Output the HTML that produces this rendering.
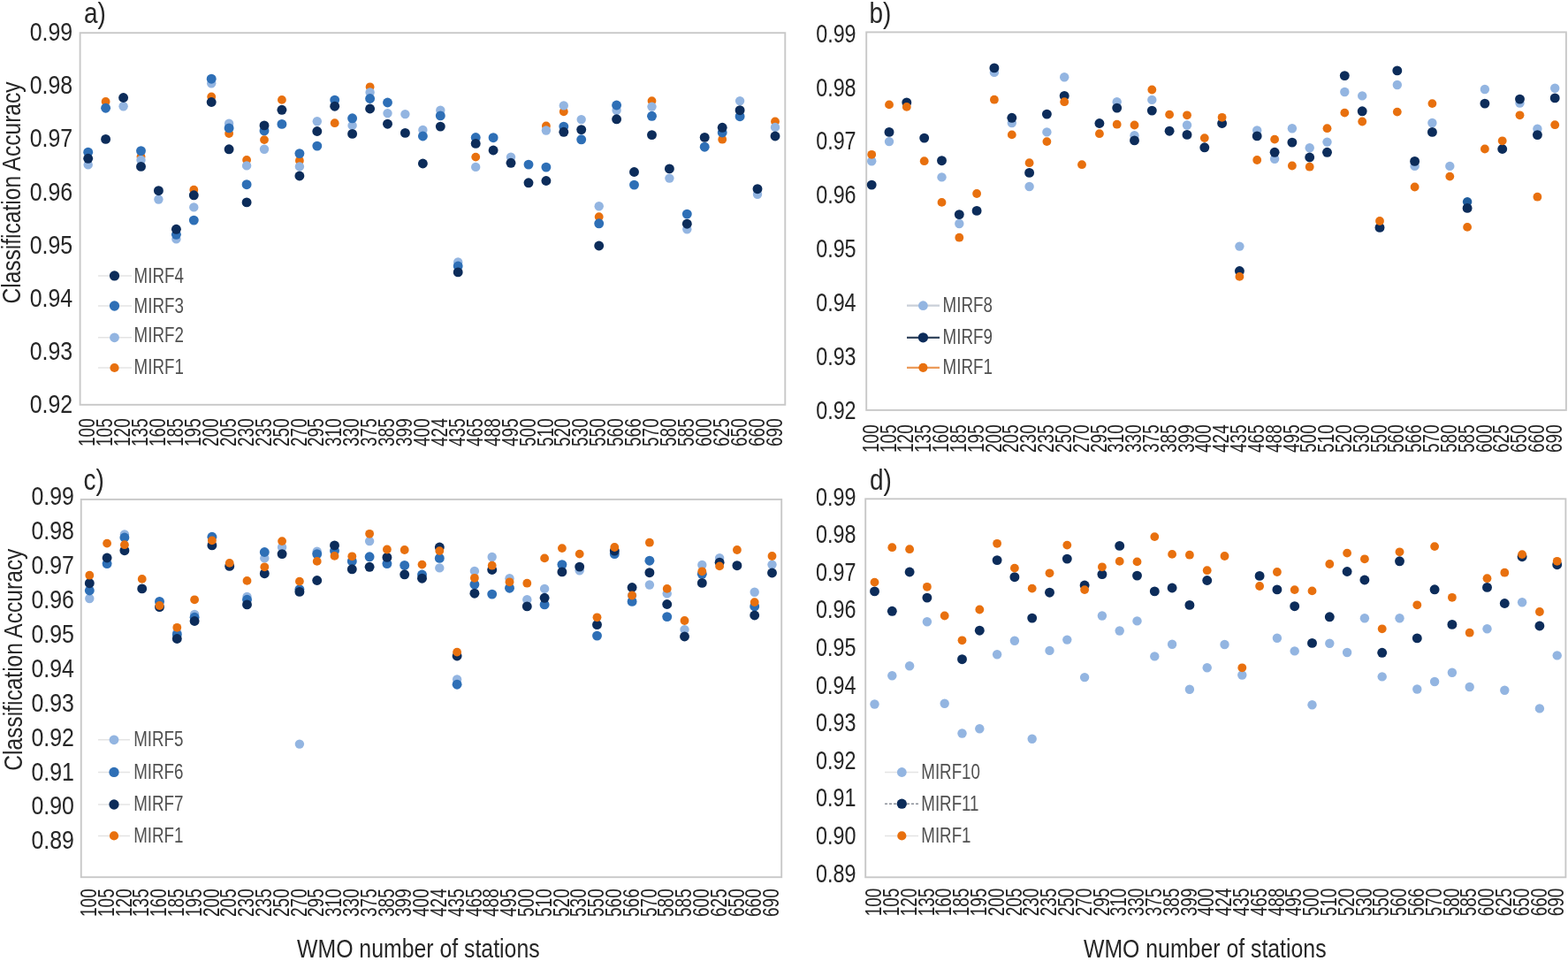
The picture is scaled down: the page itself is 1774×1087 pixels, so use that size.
<!DOCTYPE html><html><head><meta charset="utf-8"><style>html,body{margin:0;padding:0;background:#fff;width:1774px;height:1087px;overflow:hidden}svg{display:block;filter:blur(0.35px)}text{font-family:'Liberation Sans',Arial,sans-serif}</style></head><body>
<svg width="1774" height="1087" viewBox="0 0 1774 1087">
<rect width="1774" height="1087" fill="#fff"/>
<rect x="90.60" y="37.20" width="797.70" height="420.60" fill="none" stroke="#c8c8c8" stroke-width="1.9"/>
<text transform="translate(82.20,46.28) scale(0.86,1)" font-size="29.0" fill="#262626" text-anchor="end">0.99</text>
<text transform="translate(82.20,106.38) scale(0.86,1)" font-size="29.0" fill="#262626" text-anchor="end">0.98</text>
<text transform="translate(82.20,166.48) scale(0.86,1)" font-size="29.0" fill="#262626" text-anchor="end">0.97</text>
<text transform="translate(82.20,226.58) scale(0.86,1)" font-size="29.0" fill="#262626" text-anchor="end">0.96</text>
<text transform="translate(82.20,286.68) scale(0.86,1)" font-size="29.0" fill="#262626" text-anchor="end">0.95</text>
<text transform="translate(82.20,346.78) scale(0.86,1)" font-size="29.0" fill="#262626" text-anchor="end">0.94</text>
<text transform="translate(82.20,406.88) scale(0.86,1)" font-size="29.0" fill="#262626" text-anchor="end">0.93</text>
<text transform="translate(82.20,466.98) scale(0.86,1)" font-size="29.0" fill="#262626" text-anchor="end">0.92</text>
<text transform="translate(107.35,473.30) rotate(-90) scale(0.76,1)" font-size="25.0" fill="#262626" text-anchor="end">100</text>
<text transform="translate(127.28,473.30) rotate(-90) scale(0.76,1)" font-size="25.0" fill="#262626" text-anchor="end">105</text>
<text transform="translate(147.21,473.30) rotate(-90) scale(0.76,1)" font-size="25.0" fill="#262626" text-anchor="end">120</text>
<text transform="translate(167.14,473.30) rotate(-90) scale(0.76,1)" font-size="25.0" fill="#262626" text-anchor="end">135</text>
<text transform="translate(187.07,473.30) rotate(-90) scale(0.76,1)" font-size="25.0" fill="#262626" text-anchor="end">160</text>
<text transform="translate(207.00,473.30) rotate(-90) scale(0.76,1)" font-size="25.0" fill="#262626" text-anchor="end">185</text>
<text transform="translate(226.93,473.30) rotate(-90) scale(0.76,1)" font-size="25.0" fill="#262626" text-anchor="end">195</text>
<text transform="translate(246.86,473.30) rotate(-90) scale(0.76,1)" font-size="25.0" fill="#262626" text-anchor="end">200</text>
<text transform="translate(266.79,473.30) rotate(-90) scale(0.76,1)" font-size="25.0" fill="#262626" text-anchor="end">205</text>
<text transform="translate(286.72,473.30) rotate(-90) scale(0.76,1)" font-size="25.0" fill="#262626" text-anchor="end">230</text>
<text transform="translate(306.65,473.30) rotate(-90) scale(0.76,1)" font-size="25.0" fill="#262626" text-anchor="end">235</text>
<text transform="translate(326.58,473.30) rotate(-90) scale(0.76,1)" font-size="25.0" fill="#262626" text-anchor="end">250</text>
<text transform="translate(346.51,473.30) rotate(-90) scale(0.76,1)" font-size="25.0" fill="#262626" text-anchor="end">270</text>
<text transform="translate(366.44,473.30) rotate(-90) scale(0.76,1)" font-size="25.0" fill="#262626" text-anchor="end">295</text>
<text transform="translate(386.37,473.30) rotate(-90) scale(0.76,1)" font-size="25.0" fill="#262626" text-anchor="end">310</text>
<text transform="translate(406.30,473.30) rotate(-90) scale(0.76,1)" font-size="25.0" fill="#262626" text-anchor="end">330</text>
<text transform="translate(426.23,473.30) rotate(-90) scale(0.76,1)" font-size="25.0" fill="#262626" text-anchor="end">375</text>
<text transform="translate(446.16,473.30) rotate(-90) scale(0.76,1)" font-size="25.0" fill="#262626" text-anchor="end">385</text>
<text transform="translate(466.09,473.30) rotate(-90) scale(0.76,1)" font-size="25.0" fill="#262626" text-anchor="end">399</text>
<text transform="translate(486.02,473.30) rotate(-90) scale(0.76,1)" font-size="25.0" fill="#262626" text-anchor="end">400</text>
<text transform="translate(505.95,473.30) rotate(-90) scale(0.76,1)" font-size="25.0" fill="#262626" text-anchor="end">424</text>
<text transform="translate(525.88,473.30) rotate(-90) scale(0.76,1)" font-size="25.0" fill="#262626" text-anchor="end">435</text>
<text transform="translate(545.81,473.30) rotate(-90) scale(0.76,1)" font-size="25.0" fill="#262626" text-anchor="end">465</text>
<text transform="translate(565.74,473.30) rotate(-90) scale(0.76,1)" font-size="25.0" fill="#262626" text-anchor="end">488</text>
<text transform="translate(585.67,473.30) rotate(-90) scale(0.76,1)" font-size="25.0" fill="#262626" text-anchor="end">495</text>
<text transform="translate(605.60,473.30) rotate(-90) scale(0.76,1)" font-size="25.0" fill="#262626" text-anchor="end">500</text>
<text transform="translate(625.53,473.30) rotate(-90) scale(0.76,1)" font-size="25.0" fill="#262626" text-anchor="end">510</text>
<text transform="translate(645.46,473.30) rotate(-90) scale(0.76,1)" font-size="25.0" fill="#262626" text-anchor="end">520</text>
<text transform="translate(665.39,473.30) rotate(-90) scale(0.76,1)" font-size="25.0" fill="#262626" text-anchor="end">530</text>
<text transform="translate(685.32,473.30) rotate(-90) scale(0.76,1)" font-size="25.0" fill="#262626" text-anchor="end">550</text>
<text transform="translate(705.25,473.30) rotate(-90) scale(0.76,1)" font-size="25.0" fill="#262626" text-anchor="end">560</text>
<text transform="translate(725.18,473.30) rotate(-90) scale(0.76,1)" font-size="25.0" fill="#262626" text-anchor="end">566</text>
<text transform="translate(745.11,473.30) rotate(-90) scale(0.76,1)" font-size="25.0" fill="#262626" text-anchor="end">570</text>
<text transform="translate(765.04,473.30) rotate(-90) scale(0.76,1)" font-size="25.0" fill="#262626" text-anchor="end">580</text>
<text transform="translate(784.97,473.30) rotate(-90) scale(0.76,1)" font-size="25.0" fill="#262626" text-anchor="end">585</text>
<text transform="translate(804.90,473.30) rotate(-90) scale(0.76,1)" font-size="25.0" fill="#262626" text-anchor="end">600</text>
<text transform="translate(824.83,473.30) rotate(-90) scale(0.76,1)" font-size="25.0" fill="#262626" text-anchor="end">625</text>
<text transform="translate(844.76,473.30) rotate(-90) scale(0.76,1)" font-size="25.0" fill="#262626" text-anchor="end">650</text>
<text transform="translate(864.69,473.30) rotate(-90) scale(0.76,1)" font-size="25.0" fill="#262626" text-anchor="end">660</text>
<text transform="translate(884.62,473.30) rotate(-90) scale(0.76,1)" font-size="25.0" fill="#262626" text-anchor="end">690</text>
<text transform="translate(95.00,25.80) scale(0.86,1)" font-size="32.5" fill="#262626">a)</text>
<rect x="980.20" y="36.40" width="791.70" height="427.50" fill="none" stroke="#c8c8c8" stroke-width="1.9"/>
<text transform="translate(968.60,47.68) scale(0.805,1)" font-size="29.0" fill="#262626" text-anchor="end">0.99</text>
<text transform="translate(968.60,108.58) scale(0.805,1)" font-size="29.0" fill="#262626" text-anchor="end">0.98</text>
<text transform="translate(968.60,169.48) scale(0.805,1)" font-size="29.0" fill="#262626" text-anchor="end">0.97</text>
<text transform="translate(968.60,230.38) scale(0.805,1)" font-size="29.0" fill="#262626" text-anchor="end">0.96</text>
<text transform="translate(968.60,291.28) scale(0.805,1)" font-size="29.0" fill="#262626" text-anchor="end">0.95</text>
<text transform="translate(968.60,352.18) scale(0.805,1)" font-size="29.0" fill="#262626" text-anchor="end">0.94</text>
<text transform="translate(968.60,413.08) scale(0.805,1)" font-size="29.0" fill="#262626" text-anchor="end">0.93</text>
<text transform="translate(968.60,473.98) scale(0.805,1)" font-size="29.0" fill="#262626" text-anchor="end">0.92</text>
<text transform="translate(993.85,480.30) rotate(-90) scale(0.76,1)" font-size="25.0" fill="#262626" text-anchor="end">100</text>
<text transform="translate(1013.67,480.30) rotate(-90) scale(0.76,1)" font-size="25.0" fill="#262626" text-anchor="end">105</text>
<text transform="translate(1033.49,480.30) rotate(-90) scale(0.76,1)" font-size="25.0" fill="#262626" text-anchor="end">120</text>
<text transform="translate(1053.31,480.30) rotate(-90) scale(0.76,1)" font-size="25.0" fill="#262626" text-anchor="end">135</text>
<text transform="translate(1073.13,480.30) rotate(-90) scale(0.76,1)" font-size="25.0" fill="#262626" text-anchor="end">160</text>
<text transform="translate(1092.95,480.30) rotate(-90) scale(0.76,1)" font-size="25.0" fill="#262626" text-anchor="end">185</text>
<text transform="translate(1112.77,480.30) rotate(-90) scale(0.76,1)" font-size="25.0" fill="#262626" text-anchor="end">195</text>
<text transform="translate(1132.59,480.30) rotate(-90) scale(0.76,1)" font-size="25.0" fill="#262626" text-anchor="end">200</text>
<text transform="translate(1152.41,480.30) rotate(-90) scale(0.76,1)" font-size="25.0" fill="#262626" text-anchor="end">205</text>
<text transform="translate(1172.23,480.30) rotate(-90) scale(0.76,1)" font-size="25.0" fill="#262626" text-anchor="end">230</text>
<text transform="translate(1192.05,480.30) rotate(-90) scale(0.76,1)" font-size="25.0" fill="#262626" text-anchor="end">235</text>
<text transform="translate(1211.87,480.30) rotate(-90) scale(0.76,1)" font-size="25.0" fill="#262626" text-anchor="end">250</text>
<text transform="translate(1231.69,480.30) rotate(-90) scale(0.76,1)" font-size="25.0" fill="#262626" text-anchor="end">270</text>
<text transform="translate(1251.51,480.30) rotate(-90) scale(0.76,1)" font-size="25.0" fill="#262626" text-anchor="end">295</text>
<text transform="translate(1271.33,480.30) rotate(-90) scale(0.76,1)" font-size="25.0" fill="#262626" text-anchor="end">310</text>
<text transform="translate(1291.15,480.30) rotate(-90) scale(0.76,1)" font-size="25.0" fill="#262626" text-anchor="end">330</text>
<text transform="translate(1310.97,480.30) rotate(-90) scale(0.76,1)" font-size="25.0" fill="#262626" text-anchor="end">375</text>
<text transform="translate(1330.79,480.30) rotate(-90) scale(0.76,1)" font-size="25.0" fill="#262626" text-anchor="end">385</text>
<text transform="translate(1350.61,480.30) rotate(-90) scale(0.76,1)" font-size="25.0" fill="#262626" text-anchor="end">399</text>
<text transform="translate(1370.43,480.30) rotate(-90) scale(0.76,1)" font-size="25.0" fill="#262626" text-anchor="end">400</text>
<text transform="translate(1390.25,480.30) rotate(-90) scale(0.76,1)" font-size="25.0" fill="#262626" text-anchor="end">424</text>
<text transform="translate(1410.07,480.30) rotate(-90) scale(0.76,1)" font-size="25.0" fill="#262626" text-anchor="end">435</text>
<text transform="translate(1429.89,480.30) rotate(-90) scale(0.76,1)" font-size="25.0" fill="#262626" text-anchor="end">465</text>
<text transform="translate(1449.71,480.30) rotate(-90) scale(0.76,1)" font-size="25.0" fill="#262626" text-anchor="end">488</text>
<text transform="translate(1469.53,480.30) rotate(-90) scale(0.76,1)" font-size="25.0" fill="#262626" text-anchor="end">495</text>
<text transform="translate(1489.35,480.30) rotate(-90) scale(0.76,1)" font-size="25.0" fill="#262626" text-anchor="end">500</text>
<text transform="translate(1509.17,480.30) rotate(-90) scale(0.76,1)" font-size="25.0" fill="#262626" text-anchor="end">510</text>
<text transform="translate(1528.99,480.30) rotate(-90) scale(0.76,1)" font-size="25.0" fill="#262626" text-anchor="end">520</text>
<text transform="translate(1548.81,480.30) rotate(-90) scale(0.76,1)" font-size="25.0" fill="#262626" text-anchor="end">530</text>
<text transform="translate(1568.63,480.30) rotate(-90) scale(0.76,1)" font-size="25.0" fill="#262626" text-anchor="end">550</text>
<text transform="translate(1588.45,480.30) rotate(-90) scale(0.76,1)" font-size="25.0" fill="#262626" text-anchor="end">560</text>
<text transform="translate(1608.27,480.30) rotate(-90) scale(0.76,1)" font-size="25.0" fill="#262626" text-anchor="end">566</text>
<text transform="translate(1628.09,480.30) rotate(-90) scale(0.76,1)" font-size="25.0" fill="#262626" text-anchor="end">570</text>
<text transform="translate(1647.91,480.30) rotate(-90) scale(0.76,1)" font-size="25.0" fill="#262626" text-anchor="end">580</text>
<text transform="translate(1667.73,480.30) rotate(-90) scale(0.76,1)" font-size="25.0" fill="#262626" text-anchor="end">585</text>
<text transform="translate(1687.55,480.30) rotate(-90) scale(0.76,1)" font-size="25.0" fill="#262626" text-anchor="end">600</text>
<text transform="translate(1707.37,480.30) rotate(-90) scale(0.76,1)" font-size="25.0" fill="#262626" text-anchor="end">625</text>
<text transform="translate(1727.19,480.30) rotate(-90) scale(0.76,1)" font-size="25.0" fill="#262626" text-anchor="end">650</text>
<text transform="translate(1747.01,480.30) rotate(-90) scale(0.76,1)" font-size="25.0" fill="#262626" text-anchor="end">660</text>
<text transform="translate(1766.83,480.30) rotate(-90) scale(0.76,1)" font-size="25.0" fill="#262626" text-anchor="end">690</text>
<text transform="translate(983.40,25.60) scale(0.86,1)" font-size="32.5" fill="#262626">b)</text>
<rect x="91.75" y="564.90" width="792.45" height="427.30" fill="none" stroke="#c8c8c8" stroke-width="1.9"/>
<text transform="translate(84.00,570.98) scale(0.86,1)" font-size="29.0" fill="#262626" text-anchor="end">0.99</text>
<text transform="translate(84.00,609.92) scale(0.86,1)" font-size="29.0" fill="#262626" text-anchor="end">0.98</text>
<text transform="translate(84.00,648.86) scale(0.86,1)" font-size="29.0" fill="#262626" text-anchor="end">0.97</text>
<text transform="translate(84.00,687.80) scale(0.86,1)" font-size="29.0" fill="#262626" text-anchor="end">0.96</text>
<text transform="translate(84.00,726.74) scale(0.86,1)" font-size="29.0" fill="#262626" text-anchor="end">0.95</text>
<text transform="translate(84.00,765.68) scale(0.86,1)" font-size="29.0" fill="#262626" text-anchor="end">0.94</text>
<text transform="translate(84.00,804.62) scale(0.86,1)" font-size="29.0" fill="#262626" text-anchor="end">0.93</text>
<text transform="translate(84.00,843.56) scale(0.86,1)" font-size="29.0" fill="#262626" text-anchor="end">0.92</text>
<text transform="translate(84.00,882.50) scale(0.86,1)" font-size="29.0" fill="#262626" text-anchor="end">0.91</text>
<text transform="translate(84.00,921.44) scale(0.86,1)" font-size="29.0" fill="#262626" text-anchor="end">0.90</text>
<text transform="translate(84.00,960.38) scale(0.86,1)" font-size="29.0" fill="#262626" text-anchor="end">0.89</text>
<text transform="translate(108.95,1005.30) rotate(-90) scale(0.76,1)" font-size="25.0" fill="#262626" text-anchor="end">100</text>
<text transform="translate(128.75,1005.30) rotate(-90) scale(0.76,1)" font-size="25.0" fill="#262626" text-anchor="end">105</text>
<text transform="translate(148.55,1005.30) rotate(-90) scale(0.76,1)" font-size="25.0" fill="#262626" text-anchor="end">120</text>
<text transform="translate(168.35,1005.30) rotate(-90) scale(0.76,1)" font-size="25.0" fill="#262626" text-anchor="end">135</text>
<text transform="translate(188.15,1005.30) rotate(-90) scale(0.76,1)" font-size="25.0" fill="#262626" text-anchor="end">160</text>
<text transform="translate(207.95,1005.30) rotate(-90) scale(0.76,1)" font-size="25.0" fill="#262626" text-anchor="end">185</text>
<text transform="translate(227.75,1005.30) rotate(-90) scale(0.76,1)" font-size="25.0" fill="#262626" text-anchor="end">195</text>
<text transform="translate(247.55,1005.30) rotate(-90) scale(0.76,1)" font-size="25.0" fill="#262626" text-anchor="end">200</text>
<text transform="translate(267.35,1005.30) rotate(-90) scale(0.76,1)" font-size="25.0" fill="#262626" text-anchor="end">205</text>
<text transform="translate(287.15,1005.30) rotate(-90) scale(0.76,1)" font-size="25.0" fill="#262626" text-anchor="end">230</text>
<text transform="translate(306.95,1005.30) rotate(-90) scale(0.76,1)" font-size="25.0" fill="#262626" text-anchor="end">235</text>
<text transform="translate(326.75,1005.30) rotate(-90) scale(0.76,1)" font-size="25.0" fill="#262626" text-anchor="end">250</text>
<text transform="translate(346.55,1005.30) rotate(-90) scale(0.76,1)" font-size="25.0" fill="#262626" text-anchor="end">270</text>
<text transform="translate(366.35,1005.30) rotate(-90) scale(0.76,1)" font-size="25.0" fill="#262626" text-anchor="end">295</text>
<text transform="translate(386.15,1005.30) rotate(-90) scale(0.76,1)" font-size="25.0" fill="#262626" text-anchor="end">310</text>
<text transform="translate(405.95,1005.30) rotate(-90) scale(0.76,1)" font-size="25.0" fill="#262626" text-anchor="end">330</text>
<text transform="translate(425.75,1005.30) rotate(-90) scale(0.76,1)" font-size="25.0" fill="#262626" text-anchor="end">375</text>
<text transform="translate(445.55,1005.30) rotate(-90) scale(0.76,1)" font-size="25.0" fill="#262626" text-anchor="end">385</text>
<text transform="translate(465.35,1005.30) rotate(-90) scale(0.76,1)" font-size="25.0" fill="#262626" text-anchor="end">399</text>
<text transform="translate(485.15,1005.30) rotate(-90) scale(0.76,1)" font-size="25.0" fill="#262626" text-anchor="end">400</text>
<text transform="translate(504.95,1005.30) rotate(-90) scale(0.76,1)" font-size="25.0" fill="#262626" text-anchor="end">424</text>
<text transform="translate(524.75,1005.30) rotate(-90) scale(0.76,1)" font-size="25.0" fill="#262626" text-anchor="end">435</text>
<text transform="translate(544.55,1005.30) rotate(-90) scale(0.76,1)" font-size="25.0" fill="#262626" text-anchor="end">465</text>
<text transform="translate(564.35,1005.30) rotate(-90) scale(0.76,1)" font-size="25.0" fill="#262626" text-anchor="end">488</text>
<text transform="translate(584.15,1005.30) rotate(-90) scale(0.76,1)" font-size="25.0" fill="#262626" text-anchor="end">495</text>
<text transform="translate(603.95,1005.30) rotate(-90) scale(0.76,1)" font-size="25.0" fill="#262626" text-anchor="end">500</text>
<text transform="translate(623.75,1005.30) rotate(-90) scale(0.76,1)" font-size="25.0" fill="#262626" text-anchor="end">510</text>
<text transform="translate(643.55,1005.30) rotate(-90) scale(0.76,1)" font-size="25.0" fill="#262626" text-anchor="end">520</text>
<text transform="translate(663.35,1005.30) rotate(-90) scale(0.76,1)" font-size="25.0" fill="#262626" text-anchor="end">530</text>
<text transform="translate(683.15,1005.30) rotate(-90) scale(0.76,1)" font-size="25.0" fill="#262626" text-anchor="end">550</text>
<text transform="translate(702.95,1005.30) rotate(-90) scale(0.76,1)" font-size="25.0" fill="#262626" text-anchor="end">560</text>
<text transform="translate(722.75,1005.30) rotate(-90) scale(0.76,1)" font-size="25.0" fill="#262626" text-anchor="end">566</text>
<text transform="translate(742.55,1005.30) rotate(-90) scale(0.76,1)" font-size="25.0" fill="#262626" text-anchor="end">570</text>
<text transform="translate(762.35,1005.30) rotate(-90) scale(0.76,1)" font-size="25.0" fill="#262626" text-anchor="end">580</text>
<text transform="translate(782.15,1005.30) rotate(-90) scale(0.76,1)" font-size="25.0" fill="#262626" text-anchor="end">585</text>
<text transform="translate(801.95,1005.30) rotate(-90) scale(0.76,1)" font-size="25.0" fill="#262626" text-anchor="end">600</text>
<text transform="translate(821.75,1005.30) rotate(-90) scale(0.76,1)" font-size="25.0" fill="#262626" text-anchor="end">625</text>
<text transform="translate(841.55,1005.30) rotate(-90) scale(0.76,1)" font-size="25.0" fill="#262626" text-anchor="end">650</text>
<text transform="translate(861.35,1005.30) rotate(-90) scale(0.76,1)" font-size="25.0" fill="#262626" text-anchor="end">660</text>
<text transform="translate(881.15,1005.30) rotate(-90) scale(0.76,1)" font-size="25.0" fill="#262626" text-anchor="end">690</text>
<text transform="translate(94.50,554.30) scale(0.86,1)" font-size="32.5" fill="#262626">c)</text>
<rect x="979.20" y="564.30" width="792.20" height="428.00" fill="none" stroke="#c8c8c8" stroke-width="1.9"/>
<text transform="translate(968.40,571.58) scale(0.805,1)" font-size="29.0" fill="#262626" text-anchor="end">0.99</text>
<text transform="translate(968.40,614.18) scale(0.805,1)" font-size="29.0" fill="#262626" text-anchor="end">0.98</text>
<text transform="translate(968.40,656.78) scale(0.805,1)" font-size="29.0" fill="#262626" text-anchor="end">0.97</text>
<text transform="translate(968.40,699.38) scale(0.805,1)" font-size="29.0" fill="#262626" text-anchor="end">0.96</text>
<text transform="translate(968.40,741.98) scale(0.805,1)" font-size="29.0" fill="#262626" text-anchor="end">0.95</text>
<text transform="translate(968.40,784.58) scale(0.805,1)" font-size="29.0" fill="#262626" text-anchor="end">0.94</text>
<text transform="translate(968.40,827.18) scale(0.805,1)" font-size="29.0" fill="#262626" text-anchor="end">0.93</text>
<text transform="translate(968.40,869.78) scale(0.805,1)" font-size="29.0" fill="#262626" text-anchor="end">0.92</text>
<text transform="translate(968.40,912.38) scale(0.805,1)" font-size="29.0" fill="#262626" text-anchor="end">0.91</text>
<text transform="translate(968.40,954.98) scale(0.805,1)" font-size="29.0" fill="#262626" text-anchor="end">0.90</text>
<text transform="translate(968.40,997.58) scale(0.805,1)" font-size="29.0" fill="#262626" text-anchor="end">0.89</text>
<text transform="translate(997.15,1004.60) rotate(-90) scale(0.76,1)" font-size="25.0" fill="#262626" text-anchor="end">100</text>
<text transform="translate(1016.95,1004.60) rotate(-90) scale(0.76,1)" font-size="25.0" fill="#262626" text-anchor="end">105</text>
<text transform="translate(1036.75,1004.60) rotate(-90) scale(0.76,1)" font-size="25.0" fill="#262626" text-anchor="end">120</text>
<text transform="translate(1056.55,1004.60) rotate(-90) scale(0.76,1)" font-size="25.0" fill="#262626" text-anchor="end">135</text>
<text transform="translate(1076.35,1004.60) rotate(-90) scale(0.76,1)" font-size="25.0" fill="#262626" text-anchor="end">160</text>
<text transform="translate(1096.15,1004.60) rotate(-90) scale(0.76,1)" font-size="25.0" fill="#262626" text-anchor="end">185</text>
<text transform="translate(1115.95,1004.60) rotate(-90) scale(0.76,1)" font-size="25.0" fill="#262626" text-anchor="end">195</text>
<text transform="translate(1135.75,1004.60) rotate(-90) scale(0.76,1)" font-size="25.0" fill="#262626" text-anchor="end">200</text>
<text transform="translate(1155.55,1004.60) rotate(-90) scale(0.76,1)" font-size="25.0" fill="#262626" text-anchor="end">205</text>
<text transform="translate(1175.35,1004.60) rotate(-90) scale(0.76,1)" font-size="25.0" fill="#262626" text-anchor="end">230</text>
<text transform="translate(1195.15,1004.60) rotate(-90) scale(0.76,1)" font-size="25.0" fill="#262626" text-anchor="end">235</text>
<text transform="translate(1214.95,1004.60) rotate(-90) scale(0.76,1)" font-size="25.0" fill="#262626" text-anchor="end">250</text>
<text transform="translate(1234.75,1004.60) rotate(-90) scale(0.76,1)" font-size="25.0" fill="#262626" text-anchor="end">270</text>
<text transform="translate(1254.55,1004.60) rotate(-90) scale(0.76,1)" font-size="25.0" fill="#262626" text-anchor="end">295</text>
<text transform="translate(1274.35,1004.60) rotate(-90) scale(0.76,1)" font-size="25.0" fill="#262626" text-anchor="end">310</text>
<text transform="translate(1294.15,1004.60) rotate(-90) scale(0.76,1)" font-size="25.0" fill="#262626" text-anchor="end">330</text>
<text transform="translate(1313.95,1004.60) rotate(-90) scale(0.76,1)" font-size="25.0" fill="#262626" text-anchor="end">375</text>
<text transform="translate(1333.75,1004.60) rotate(-90) scale(0.76,1)" font-size="25.0" fill="#262626" text-anchor="end">385</text>
<text transform="translate(1353.55,1004.60) rotate(-90) scale(0.76,1)" font-size="25.0" fill="#262626" text-anchor="end">399</text>
<text transform="translate(1373.35,1004.60) rotate(-90) scale(0.76,1)" font-size="25.0" fill="#262626" text-anchor="end">400</text>
<text transform="translate(1393.15,1004.60) rotate(-90) scale(0.76,1)" font-size="25.0" fill="#262626" text-anchor="end">424</text>
<text transform="translate(1412.95,1004.60) rotate(-90) scale(0.76,1)" font-size="25.0" fill="#262626" text-anchor="end">435</text>
<text transform="translate(1432.75,1004.60) rotate(-90) scale(0.76,1)" font-size="25.0" fill="#262626" text-anchor="end">465</text>
<text transform="translate(1452.55,1004.60) rotate(-90) scale(0.76,1)" font-size="25.0" fill="#262626" text-anchor="end">488</text>
<text transform="translate(1472.35,1004.60) rotate(-90) scale(0.76,1)" font-size="25.0" fill="#262626" text-anchor="end">495</text>
<text transform="translate(1492.15,1004.60) rotate(-90) scale(0.76,1)" font-size="25.0" fill="#262626" text-anchor="end">500</text>
<text transform="translate(1511.95,1004.60) rotate(-90) scale(0.76,1)" font-size="25.0" fill="#262626" text-anchor="end">510</text>
<text transform="translate(1531.75,1004.60) rotate(-90) scale(0.76,1)" font-size="25.0" fill="#262626" text-anchor="end">520</text>
<text transform="translate(1551.55,1004.60) rotate(-90) scale(0.76,1)" font-size="25.0" fill="#262626" text-anchor="end">530</text>
<text transform="translate(1571.35,1004.60) rotate(-90) scale(0.76,1)" font-size="25.0" fill="#262626" text-anchor="end">550</text>
<text transform="translate(1591.15,1004.60) rotate(-90) scale(0.76,1)" font-size="25.0" fill="#262626" text-anchor="end">560</text>
<text transform="translate(1610.95,1004.60) rotate(-90) scale(0.76,1)" font-size="25.0" fill="#262626" text-anchor="end">566</text>
<text transform="translate(1630.75,1004.60) rotate(-90) scale(0.76,1)" font-size="25.0" fill="#262626" text-anchor="end">570</text>
<text transform="translate(1650.55,1004.60) rotate(-90) scale(0.76,1)" font-size="25.0" fill="#262626" text-anchor="end">580</text>
<text transform="translate(1670.35,1004.60) rotate(-90) scale(0.76,1)" font-size="25.0" fill="#262626" text-anchor="end">585</text>
<text transform="translate(1690.15,1004.60) rotate(-90) scale(0.76,1)" font-size="25.0" fill="#262626" text-anchor="end">600</text>
<text transform="translate(1709.95,1004.60) rotate(-90) scale(0.76,1)" font-size="25.0" fill="#262626" text-anchor="end">625</text>
<text transform="translate(1729.75,1004.60) rotate(-90) scale(0.76,1)" font-size="25.0" fill="#262626" text-anchor="end">650</text>
<text transform="translate(1749.55,1004.60) rotate(-90) scale(0.76,1)" font-size="25.0" fill="#262626" text-anchor="end">660</text>
<text transform="translate(1769.35,1004.60) rotate(-90) scale(0.76,1)" font-size="25.0" fill="#262626" text-anchor="end">690</text>
<text transform="translate(984.00,554.00) scale(0.86,1)" font-size="32.5" fill="#262626">d)</text>
<text transform="translate(23.40,218.00) rotate(-90) scale(0.83,1)" font-size="29.6" fill="#262626" text-anchor="middle">Classification Accuracy</text>
<text transform="translate(24.80,746.20) rotate(-90) scale(0.83,1)" font-size="29.6" fill="#262626" text-anchor="middle">Classification Accuracy</text>
<text transform="translate(473.30,1083.30) scale(0.817,1)" font-size="30.4" fill="#262626" text-anchor="middle">WMO number of stations</text>
<text transform="translate(1363.25,1083.30) scale(0.817,1)" font-size="30.4" fill="#262626" text-anchor="middle">WMO number of stations</text>
<g fill="#e8700e"><circle cx="119.6" cy="114.9" r="4.9"/><circle cx="159.5" cy="177.3" r="4.9"/><circle cx="219.3" cy="214.7" r="4.9"/><circle cx="239.2" cy="109.5" r="4.9"/><circle cx="259.1" cy="151.0" r="4.9"/><circle cx="279.1" cy="180.9" r="4.9"/><circle cx="299.0" cy="158.1" r="4.9"/><circle cx="318.9" cy="112.9" r="4.9"/><circle cx="338.9" cy="181.7" r="4.9"/><circle cx="378.7" cy="139.2" r="4.9"/><circle cx="418.6" cy="98.3" r="4.9"/><circle cx="538.2" cy="177.6" r="4.9"/><circle cx="617.9" cy="142.4" r="4.9"/><circle cx="637.8" cy="126.3" r="4.9"/><circle cx="677.7" cy="245.2" r="4.9"/><circle cx="737.5" cy="114.1" r="4.9"/><circle cx="817.2" cy="157.7" r="4.9"/><circle cx="877.0" cy="137.4" r="4.9"/></g>
<g fill="#93b5e1"><circle cx="99.7" cy="186.4" r="5.2"/><circle cx="139.6" cy="120.2" r="5.2"/><circle cx="159.5" cy="181.0" r="5.2"/><circle cx="179.4" cy="225.5" r="5.2"/><circle cx="199.4" cy="270.4" r="5.2"/><circle cx="219.3" cy="234.4" r="5.2"/><circle cx="239.2" cy="94.3" r="5.2"/><circle cx="259.1" cy="139.8" r="5.2"/><circle cx="279.1" cy="187.4" r="5.2"/><circle cx="299.0" cy="168.8" r="5.2"/><circle cx="338.9" cy="188.4" r="5.2"/><circle cx="358.8" cy="137.2" r="5.2"/><circle cx="398.6" cy="141.9" r="5.2"/><circle cx="418.6" cy="104.4" r="5.2"/><circle cx="438.5" cy="128.1" r="5.2"/><circle cx="458.4" cy="129.1" r="5.2"/><circle cx="478.4" cy="146.9" r="5.2"/><circle cx="498.3" cy="124.7" r="5.2"/><circle cx="518.2" cy="296.4" r="5.2"/><circle cx="538.2" cy="188.9" r="5.2"/><circle cx="578.0" cy="177.6" r="5.2"/><circle cx="617.9" cy="147.5" r="5.2"/><circle cx="637.8" cy="119.4" r="5.2"/><circle cx="657.7" cy="135.1" r="5.2"/><circle cx="677.7" cy="233.2" r="5.2"/><circle cx="697.6" cy="124.7" r="5.2"/><circle cx="737.5" cy="120.6" r="5.2"/><circle cx="757.4" cy="201.6" r="5.2"/><circle cx="777.3" cy="259.3" r="5.2"/><circle cx="837.1" cy="114.1" r="5.2"/><circle cx="857.0" cy="219.8" r="5.2"/><circle cx="877.0" cy="143.9" r="5.2"/></g>
<g fill="#2e6fb6"><circle cx="99.7" cy="172.2" r="5.45"/><circle cx="119.6" cy="122.2" r="5.45"/><circle cx="159.5" cy="170.6" r="5.45"/><circle cx="199.4" cy="265.3" r="5.45"/><circle cx="219.3" cy="249.1" r="5.45"/><circle cx="239.2" cy="89.2" r="5.45"/><circle cx="259.1" cy="144.9" r="5.45"/><circle cx="279.1" cy="208.7" r="5.45"/><circle cx="299.0" cy="147.9" r="5.45"/><circle cx="318.9" cy="140.4" r="5.45"/><circle cx="338.9" cy="173.6" r="5.45"/><circle cx="358.8" cy="165.1" r="5.45"/><circle cx="378.7" cy="113.1" r="5.45"/><circle cx="398.6" cy="133.8" r="5.45"/><circle cx="418.6" cy="111.5" r="5.45"/><circle cx="438.5" cy="116.0" r="5.45"/><circle cx="478.4" cy="154.0" r="5.45"/><circle cx="498.3" cy="130.9" r="5.45"/><circle cx="518.2" cy="301.0" r="5.45"/><circle cx="538.2" cy="155.5" r="5.45"/><circle cx="558.1" cy="155.7" r="5.45"/><circle cx="598.0" cy="186.1" r="5.45"/><circle cx="617.9" cy="189.1" r="5.45"/><circle cx="637.8" cy="143.1" r="5.45"/><circle cx="657.7" cy="157.8" r="5.45"/><circle cx="677.7" cy="252.8" r="5.45"/><circle cx="697.6" cy="119.0" r="5.45"/><circle cx="717.5" cy="209.1" r="5.45"/><circle cx="737.5" cy="131.3" r="5.45"/><circle cx="777.3" cy="242.1" r="5.45"/><circle cx="797.2" cy="166.2" r="5.45"/><circle cx="817.2" cy="150.0" r="5.45"/><circle cx="837.1" cy="131.7" r="5.45"/></g>
<g fill="#0c2c5a"><circle cx="99.7" cy="179.3" r="5.45"/><circle cx="119.6" cy="157.4" r="5.45"/><circle cx="139.6" cy="110.5" r="5.45"/><circle cx="159.5" cy="188.4" r="5.45"/><circle cx="179.4" cy="215.7" r="5.45"/><circle cx="199.4" cy="259.3" r="5.45"/><circle cx="219.3" cy="220.8" r="5.45"/><circle cx="239.2" cy="115.5" r="5.45"/><circle cx="259.1" cy="168.8" r="5.45"/><circle cx="279.1" cy="228.9" r="5.45"/><circle cx="299.0" cy="141.9" r="5.45"/><circle cx="318.9" cy="124.3" r="5.45"/><circle cx="338.9" cy="199.0" r="5.45"/><circle cx="358.8" cy="148.5" r="5.45"/><circle cx="378.7" cy="120.2" r="5.45"/><circle cx="398.6" cy="151.4" r="5.45"/><circle cx="418.6" cy="123.0" r="5.45"/><circle cx="438.5" cy="140.2" r="5.45"/><circle cx="458.4" cy="150.4" r="5.45"/><circle cx="478.4" cy="185.0" r="5.45"/><circle cx="498.3" cy="143.1" r="5.45"/><circle cx="518.2" cy="307.9" r="5.45"/><circle cx="538.2" cy="162.4" r="5.45"/><circle cx="558.1" cy="170.0" r="5.45"/><circle cx="578.0" cy="184.3" r="5.45"/><circle cx="598.0" cy="206.8" r="5.45"/><circle cx="617.9" cy="204.5" r="5.45"/><circle cx="637.8" cy="149.3" r="5.45"/><circle cx="657.7" cy="146.6" r="5.45"/><circle cx="677.7" cy="278.0" r="5.45"/><circle cx="697.6" cy="134.8" r="5.45"/><circle cx="717.5" cy="194.5" r="5.45"/><circle cx="737.5" cy="152.6" r="5.45"/><circle cx="757.4" cy="190.9" r="5.45"/><circle cx="777.3" cy="253.2" r="5.45"/><circle cx="797.2" cy="155.4" r="5.45"/><circle cx="817.2" cy="144.3" r="5.45"/><circle cx="837.1" cy="124.7" r="5.45"/><circle cx="857.0" cy="213.7" r="5.45"/><circle cx="877.0" cy="154.0" r="5.45"/></g>
<g fill="#93b5e1"><circle cx="986.2" cy="182.2" r="5.2"/><circle cx="1006.0" cy="160.1" r="5.2"/><circle cx="1065.5" cy="200.4" r="5.2"/><circle cx="1085.3" cy="253.0" r="5.2"/><circle cx="1124.9" cy="81.9" r="5.2"/><circle cx="1144.8" cy="139.0" r="5.2"/><circle cx="1164.6" cy="211.0" r="5.2"/><circle cx="1184.4" cy="149.4" r="5.2"/><circle cx="1204.2" cy="87.3" r="5.2"/><circle cx="1263.7" cy="115.2" r="5.2"/><circle cx="1283.5" cy="153.2" r="5.2"/><circle cx="1303.3" cy="112.9" r="5.2"/><circle cx="1343.0" cy="141.5" r="5.2"/><circle cx="1402.4" cy="278.6" r="5.2"/><circle cx="1422.2" cy="147.5" r="5.2"/><circle cx="1442.1" cy="179.8" r="5.2"/><circle cx="1461.9" cy="145.2" r="5.2"/><circle cx="1481.7" cy="167.3" r="5.2"/><circle cx="1501.5" cy="160.6" r="5.2"/><circle cx="1521.3" cy="104.0" r="5.2"/><circle cx="1541.2" cy="108.4" r="5.2"/><circle cx="1580.8" cy="96.0" r="5.2"/><circle cx="1600.6" cy="187.9" r="5.2"/><circle cx="1620.4" cy="139.0" r="5.2"/><circle cx="1640.3" cy="187.9" r="5.2"/><circle cx="1660.1" cy="228.2" r="5.2" fill="#1f5c9c"/><circle cx="1679.9" cy="101.0" r="5.2"/><circle cx="1719.5" cy="116.6" r="5.2"/><circle cx="1739.4" cy="145.7" r="5.2"/><circle cx="1759.2" cy="99.7" r="5.2"/></g>
<g fill="#0c2c5a"><circle cx="986.2" cy="209.1" r="5.45"/><circle cx="1006.0" cy="149.4" r="5.45"/><circle cx="1025.8" cy="115.9" r="5.45"/><circle cx="1045.7" cy="156.1" r="5.45"/><circle cx="1065.5" cy="181.7" r="5.45"/><circle cx="1085.3" cy="242.6" r="5.45"/><circle cx="1105.1" cy="238.4" r="5.45"/><circle cx="1124.9" cy="76.9" r="5.45"/><circle cx="1144.8" cy="133.3" r="5.45"/><circle cx="1164.6" cy="195.4" r="5.45"/><circle cx="1184.4" cy="129.1" r="5.45"/><circle cx="1204.2" cy="108.4" r="5.45"/><circle cx="1243.9" cy="139.5" r="5.45"/><circle cx="1263.7" cy="122.1" r="5.45"/><circle cx="1283.5" cy="158.9" r="5.45"/><circle cx="1303.3" cy="125.1" r="5.45"/><circle cx="1323.1" cy="148.2" r="5.45"/><circle cx="1343.0" cy="152.4" r="5.45"/><circle cx="1362.8" cy="166.8" r="5.45"/><circle cx="1382.6" cy="139.5" r="5.45"/><circle cx="1402.4" cy="306.5" r="5.45"/><circle cx="1422.2" cy="153.9" r="5.45"/><circle cx="1442.1" cy="172.3" r="5.45"/><circle cx="1461.9" cy="161.1" r="5.45"/><circle cx="1481.7" cy="178.0" r="5.45"/><circle cx="1501.5" cy="172.3" r="5.45"/><circle cx="1521.3" cy="85.6" r="5.45"/><circle cx="1541.2" cy="125.8" r="5.45"/><circle cx="1561.0" cy="257.4" r="5.45"/><circle cx="1580.8" cy="79.9" r="5.45"/><circle cx="1600.6" cy="182.4" r="5.45"/><circle cx="1620.4" cy="149.4" r="5.45"/><circle cx="1660.1" cy="235.4" r="5.45"/><circle cx="1679.9" cy="117.1" r="5.45"/><circle cx="1699.7" cy="168.5" r="5.45"/><circle cx="1719.5" cy="112.1" r="5.45"/><circle cx="1739.4" cy="152.6" r="5.45"/><circle cx="1759.2" cy="110.9" r="5.45"/></g>
<g fill="#e8700e"><circle cx="986.2" cy="174.8" r="4.9"/><circle cx="1006.0" cy="118.4" r="4.9"/><circle cx="1025.8" cy="120.9" r="4.9"/><circle cx="1045.7" cy="182.2" r="4.9"/><circle cx="1065.5" cy="228.9" r="4.9"/><circle cx="1085.3" cy="268.7" r="4.9"/><circle cx="1105.1" cy="219.0" r="4.9"/><circle cx="1124.9" cy="112.7" r="4.9"/><circle cx="1144.8" cy="152.4" r="4.9"/><circle cx="1164.6" cy="184.2" r="4.9"/><circle cx="1184.4" cy="160.1" r="4.9"/><circle cx="1204.2" cy="115.2" r="4.9"/><circle cx="1224.0" cy="186.2" r="4.9"/><circle cx="1243.9" cy="151.2" r="4.9"/><circle cx="1263.7" cy="140.7" r="4.9"/><circle cx="1283.5" cy="141.5" r="4.9"/><circle cx="1303.3" cy="101.5" r="4.9"/><circle cx="1323.1" cy="129.6" r="4.9"/><circle cx="1343.0" cy="130.3" r="4.9"/><circle cx="1362.8" cy="156.1" r="4.9"/><circle cx="1382.6" cy="132.8" r="4.9"/><circle cx="1402.4" cy="312.9" r="4.9"/><circle cx="1422.2" cy="181.0" r="4.9"/><circle cx="1442.1" cy="157.6" r="4.9"/><circle cx="1461.9" cy="187.5" r="4.9"/><circle cx="1481.7" cy="188.7" r="4.9"/><circle cx="1501.5" cy="145.2" r="4.9"/><circle cx="1521.3" cy="127.6" r="4.9"/><circle cx="1541.2" cy="137.5" r="4.9"/><circle cx="1561.0" cy="250.0" r="4.9"/><circle cx="1580.8" cy="126.6" r="4.9"/><circle cx="1600.6" cy="211.5" r="4.9"/><circle cx="1620.4" cy="117.1" r="4.9"/><circle cx="1640.3" cy="199.6" r="4.9"/><circle cx="1660.1" cy="256.9" r="4.9"/><circle cx="1679.9" cy="168.5" r="4.9"/><circle cx="1699.7" cy="159.3" r="4.9"/><circle cx="1719.5" cy="130.3" r="4.9"/><circle cx="1739.4" cy="222.7" r="4.9"/><circle cx="1759.2" cy="141.2" r="4.9"/></g>
<g fill="#93b5e1"><circle cx="101.3" cy="677.0" r="5.2"/><circle cx="140.9" cy="604.5" r="5.2"/><circle cx="200.3" cy="715.6" r="5.2"/><circle cx="220.1" cy="694.9" r="5.2"/><circle cx="279.5" cy="674.9" r="5.2"/><circle cx="299.3" cy="631.4" r="5.2"/><circle cx="319.1" cy="619.0" r="5.2"/><circle cx="338.9" cy="841.6" r="5.2"/><circle cx="358.7" cy="623.8" r="5.2"/><circle cx="418.1" cy="612.1" r="5.2"/><circle cx="497.3" cy="642.4" r="5.2"/><circle cx="517.1" cy="768.4" r="5.2"/><circle cx="536.9" cy="645.9" r="5.2"/><circle cx="556.7" cy="630.0" r="5.2"/><circle cx="576.5" cy="654.2" r="5.2"/><circle cx="596.3" cy="678.3" r="5.2"/><circle cx="616.1" cy="665.9" r="5.2"/><circle cx="655.7" cy="645.2" r="5.2"/><circle cx="715.1" cy="673.5" r="5.2"/><circle cx="734.9" cy="661.5" r="5.2"/><circle cx="754.7" cy="671.4" r="5.2"/><circle cx="774.5" cy="712.1" r="5.2"/><circle cx="794.3" cy="639.0" r="5.2"/><circle cx="814.1" cy="631.1" r="5.2"/><circle cx="853.7" cy="669.7" r="5.2"/><circle cx="873.5" cy="638.6" r="5.2"/></g>
<g fill="#2e6fb6"><circle cx="101.3" cy="668.0" r="5.45"/><circle cx="121.1" cy="637.6" r="5.45"/><circle cx="140.9" cy="608.0" r="5.45"/><circle cx="180.5" cy="680.4" r="5.45"/><circle cx="200.3" cy="717.7" r="5.45"/><circle cx="220.1" cy="698.3" r="5.45"/><circle cx="239.9" cy="607.3" r="5.45"/><circle cx="279.5" cy="678.3" r="5.45"/><circle cx="299.3" cy="624.5" r="5.45"/><circle cx="338.9" cy="666.6" r="5.45"/><circle cx="358.7" cy="626.6" r="5.45"/><circle cx="378.5" cy="623.1" r="5.45"/><circle cx="398.3" cy="634.9" r="5.45"/><circle cx="418.1" cy="629.8" r="5.45"/><circle cx="437.9" cy="637.6" r="5.45"/><circle cx="457.7" cy="639.4" r="5.45"/><circle cx="477.5" cy="650.0" r="5.45"/><circle cx="497.3" cy="631.4" r="5.45"/><circle cx="517.1" cy="774.2" r="5.45"/><circle cx="536.9" cy="661.1" r="5.45"/><circle cx="556.7" cy="672.1" r="5.45"/><circle cx="576.5" cy="665.2" r="5.45"/><circle cx="616.1" cy="683.9" r="5.45"/><circle cx="635.9" cy="638.6" r="5.45"/><circle cx="675.5" cy="719.1" r="5.45"/><circle cx="695.3" cy="626.6" r="5.45"/><circle cx="715.1" cy="680.4" r="5.45"/><circle cx="734.9" cy="634.2" r="5.45"/><circle cx="754.7" cy="697.6" r="5.45"/><circle cx="794.3" cy="649.3" r="5.45"/><circle cx="853.7" cy="685.9" r="5.45"/></g>
<g fill="#0c2c5a"><circle cx="101.3" cy="659.7" r="5.45"/><circle cx="121.1" cy="631.0" r="5.45"/><circle cx="140.9" cy="622.7" r="5.45"/><circle cx="160.7" cy="665.9" r="5.45"/><circle cx="180.5" cy="686.6" r="5.45"/><circle cx="200.3" cy="722.5" r="5.45"/><circle cx="220.1" cy="702.5" r="5.45"/><circle cx="239.9" cy="616.9" r="5.45"/><circle cx="259.7" cy="640.4" r="5.45"/><circle cx="279.5" cy="683.9" r="5.45"/><circle cx="299.3" cy="648.7" r="5.45"/><circle cx="319.1" cy="626.6" r="5.45"/><circle cx="338.9" cy="669.4" r="5.45"/><circle cx="358.7" cy="656.5" r="5.45"/><circle cx="378.5" cy="616.9" r="5.45"/><circle cx="398.3" cy="643.8" r="5.45"/><circle cx="418.1" cy="641.3" r="5.45"/><circle cx="437.9" cy="630.4" r="5.45"/><circle cx="457.7" cy="649.8" r="5.45"/><circle cx="477.5" cy="654.2" r="5.45"/><circle cx="497.3" cy="619.0" r="5.45"/><circle cx="517.1" cy="742.0" r="5.45"/><circle cx="536.9" cy="671.2" r="5.45"/><circle cx="556.7" cy="644.5" r="5.45"/><circle cx="596.3" cy="685.9" r="5.45"/><circle cx="616.1" cy="676.3" r="5.45"/><circle cx="635.9" cy="646.9" r="5.45"/><circle cx="655.7" cy="641.1" r="5.45"/><circle cx="675.5" cy="706.6" r="5.45"/><circle cx="695.3" cy="623.1" r="5.45"/><circle cx="715.1" cy="664.5" r="5.45"/><circle cx="734.9" cy="647.7" r="5.45"/><circle cx="754.7" cy="683.5" r="5.45"/><circle cx="774.5" cy="720.0" r="5.45"/><circle cx="794.3" cy="659.4" r="5.45"/><circle cx="814.1" cy="636.2" r="5.45"/><circle cx="833.9" cy="639.7" r="5.45"/><circle cx="853.7" cy="696.0" r="5.45"/><circle cx="873.5" cy="648.0" r="5.45"/></g>
<g fill="#e8700e"><circle cx="101.3" cy="650.7" r="4.9"/><circle cx="121.1" cy="614.6" r="4.9"/><circle cx="140.9" cy="616.2" r="4.9"/><circle cx="160.7" cy="654.9" r="4.9"/><circle cx="180.5" cy="685.0" r="4.9"/><circle cx="200.3" cy="709.8" r="4.9"/><circle cx="220.1" cy="678.3" r="4.9"/><circle cx="239.9" cy="611.4" r="4.9"/><circle cx="259.7" cy="636.9" r="4.9"/><circle cx="279.5" cy="656.9" r="4.9"/><circle cx="299.3" cy="641.3" r="4.9"/><circle cx="319.1" cy="612.1" r="4.9"/><circle cx="338.9" cy="657.6" r="4.9"/><circle cx="358.7" cy="634.9" r="4.9"/><circle cx="378.5" cy="628.9" r="4.9"/><circle cx="398.3" cy="629.3" r="4.9"/><circle cx="418.1" cy="603.8" r="4.9"/><circle cx="437.9" cy="621.5" r="4.9"/><circle cx="457.7" cy="622.0" r="4.9"/><circle cx="477.5" cy="638.6" r="4.9"/><circle cx="497.3" cy="623.1" r="4.9"/><circle cx="517.1" cy="737.6" r="4.9"/><circle cx="536.9" cy="653.8" r="4.9"/><circle cx="556.7" cy="639.7" r="4.9"/><circle cx="576.5" cy="658.3" r="4.9"/><circle cx="596.3" cy="659.7" r="4.9"/><circle cx="616.1" cy="631.4" r="4.9"/><circle cx="635.9" cy="620.1" r="4.9"/><circle cx="655.7" cy="626.6" r="4.9"/><circle cx="675.5" cy="698.3" r="4.9"/><circle cx="695.3" cy="619.0" r="4.9"/><circle cx="715.1" cy="673.5" r="4.9"/><circle cx="734.9" cy="613.7" r="4.9"/><circle cx="754.7" cy="665.9" r="4.9"/><circle cx="774.5" cy="702.0" r="4.9"/><circle cx="794.3" cy="646.3" r="4.9"/><circle cx="814.1" cy="640.4" r="4.9"/><circle cx="833.9" cy="622.0" r="4.9"/><circle cx="853.7" cy="681.1" r="4.9"/><circle cx="873.5" cy="629.0" r="4.9"/></g>
<g fill="#93b5e1"><circle cx="989.5" cy="796.5" r="5.2"/><circle cx="1009.3" cy="764.3" r="5.2"/><circle cx="1029.1" cy="753.2" r="5.2"/><circle cx="1048.9" cy="703.2" r="5.2"/><circle cx="1068.7" cy="795.7" r="5.2"/><circle cx="1088.5" cy="829.5" r="5.2"/><circle cx="1108.3" cy="824.3" r="5.2"/><circle cx="1128.1" cy="740.3" r="5.2"/><circle cx="1147.9" cy="724.8" r="5.2"/><circle cx="1167.7" cy="835.7" r="5.2"/><circle cx="1187.5" cy="735.9" r="5.2"/><circle cx="1207.3" cy="723.6" r="5.2"/><circle cx="1227.1" cy="766.1" r="5.2"/><circle cx="1246.9" cy="696.5" r="5.2"/><circle cx="1266.7" cy="713.5" r="5.2"/><circle cx="1286.5" cy="702.4" r="5.2"/><circle cx="1306.3" cy="742.4" r="5.2"/><circle cx="1326.1" cy="728.7" r="5.2"/><circle cx="1345.9" cy="779.7" r="5.2"/><circle cx="1365.7" cy="755.3" r="5.2"/><circle cx="1385.5" cy="729.0" r="5.2"/><circle cx="1405.3" cy="763.5" r="5.2"/><circle cx="1444.9" cy="721.8" r="5.2"/><circle cx="1464.7" cy="736.4" r="5.2"/><circle cx="1484.5" cy="797.3" r="5.2"/><circle cx="1504.3" cy="727.7" r="5.2"/><circle cx="1524.1" cy="738.0" r="5.2"/><circle cx="1543.9" cy="699.3" r="5.2"/><circle cx="1563.7" cy="765.4" r="5.2"/><circle cx="1583.5" cy="699.2" r="5.2"/><circle cx="1603.3" cy="779.5" r="5.2"/><circle cx="1623.1" cy="771.0" r="5.2"/><circle cx="1642.9" cy="760.7" r="5.2"/><circle cx="1662.7" cy="777.0" r="5.2"/><circle cx="1682.5" cy="711.3" r="5.2"/><circle cx="1702.3" cy="780.8" r="5.2"/><circle cx="1722.1" cy="681.2" r="5.2"/><circle cx="1741.9" cy="801.4" r="5.2"/><circle cx="1761.7" cy="741.4" r="5.2"/></g>
<g fill="#0c2c5a"><circle cx="989.5" cy="668.9" r="5.45"/><circle cx="1009.3" cy="691.3" r="5.45"/><circle cx="1029.1" cy="647.0" r="5.45"/><circle cx="1048.9" cy="676.1" r="5.45"/><circle cx="1088.5" cy="745.7" r="5.45"/><circle cx="1108.3" cy="713.2" r="5.45"/><circle cx="1128.1" cy="633.6" r="5.45"/><circle cx="1147.9" cy="652.7" r="5.45"/><circle cx="1167.7" cy="699.1" r="5.45"/><circle cx="1187.5" cy="670.2" r="5.45"/><circle cx="1207.3" cy="632.1" r="5.45"/><circle cx="1227.1" cy="662.0" r="5.45"/><circle cx="1246.9" cy="649.6" r="5.45"/><circle cx="1266.7" cy="617.4" r="5.45"/><circle cx="1286.5" cy="651.1" r="5.45"/><circle cx="1306.3" cy="668.9" r="5.45"/><circle cx="1326.1" cy="665.0" r="5.45"/><circle cx="1345.9" cy="684.4" r="5.45"/><circle cx="1365.7" cy="656.5" r="5.45"/><circle cx="1425.1" cy="651.4" r="5.45"/><circle cx="1444.9" cy="666.9" r="5.45"/><circle cx="1464.7" cy="685.7" r="5.45"/><circle cx="1484.5" cy="727.4" r="5.45"/><circle cx="1504.3" cy="697.8" r="5.45"/><circle cx="1524.1" cy="646.5" r="5.45"/><circle cx="1543.9" cy="656.0" r="5.45"/><circle cx="1563.7" cy="738.3" r="5.45"/><circle cx="1583.5" cy="634.8" r="5.45"/><circle cx="1603.3" cy="721.9" r="5.45"/><circle cx="1623.1" cy="666.8" r="5.45"/><circle cx="1642.9" cy="706.4" r="5.45"/><circle cx="1682.5" cy="664.4" r="5.45"/><circle cx="1702.3" cy="682.5" r="5.45"/><circle cx="1722.1" cy="629.7" r="5.45"/><circle cx="1741.9" cy="708.0" r="5.45"/><circle cx="1761.7" cy="638.7" r="5.45"/></g>
<g fill="#e8700e"><circle cx="989.5" cy="658.6" r="4.9"/><circle cx="1009.3" cy="619.2" r="4.9"/><circle cx="1029.1" cy="621.2" r="4.9"/><circle cx="1048.9" cy="663.8" r="4.9"/><circle cx="1068.7" cy="696.5" r="4.9"/><circle cx="1088.5" cy="724.3" r="4.9"/><circle cx="1108.3" cy="689.5" r="4.9"/><circle cx="1128.1" cy="614.8" r="4.9"/><circle cx="1147.9" cy="642.6" r="4.9"/><circle cx="1167.7" cy="665.6" r="4.9"/><circle cx="1187.5" cy="648.3" r="4.9"/><circle cx="1207.3" cy="616.6" r="4.9"/><circle cx="1227.1" cy="667.1" r="4.9"/><circle cx="1246.9" cy="641.3" r="4.9"/><circle cx="1266.7" cy="634.9" r="4.9"/><circle cx="1286.5" cy="635.4" r="4.9"/><circle cx="1306.3" cy="607.1" r="4.9"/><circle cx="1326.1" cy="626.9" r="4.9"/><circle cx="1345.9" cy="627.7" r="4.9"/><circle cx="1365.7" cy="645.2" r="4.9"/><circle cx="1385.5" cy="629.0" r="4.9"/><circle cx="1405.3" cy="755.3" r="4.9"/><circle cx="1425.1" cy="663.0" r="4.9"/><circle cx="1444.9" cy="647.0" r="4.9"/><circle cx="1464.7" cy="667.1" r="4.9"/><circle cx="1484.5" cy="668.4" r="4.9"/><circle cx="1504.3" cy="638.0" r="4.9"/><circle cx="1524.1" cy="625.6" r="4.9"/><circle cx="1543.9" cy="632.3" r="4.9"/><circle cx="1563.7" cy="711.3" r="4.9"/><circle cx="1583.5" cy="624.3" r="4.9"/><circle cx="1603.3" cy="684.3" r="4.9"/><circle cx="1623.1" cy="618.1" r="4.9"/><circle cx="1642.9" cy="675.8" r="4.9"/><circle cx="1662.7" cy="715.7" r="4.9"/><circle cx="1682.5" cy="654.2" r="4.9"/><circle cx="1702.3" cy="647.7" r="4.9"/><circle cx="1722.1" cy="627.1" r="4.9"/><circle cx="1741.9" cy="692.0" r="4.9"/><circle cx="1761.7" cy="634.8" r="4.9"/></g>
<line x1="111" y1="311.9" x2="149" y2="311.9" stroke="#e4e4e4" stroke-width="1.5"/>
<circle cx="129.5" cy="311.9" r="5.65" fill="#0c2c5a"/>
<text transform="translate(151.60,319.60) scale(0.815,1)" font-size="23.0" fill="#505050">MIRF4</text>
<line x1="111" y1="346.0" x2="149" y2="346.0" stroke="#e4e4e4" stroke-width="1.5"/>
<circle cx="129.5" cy="346.0" r="5.65" fill="#2e6fb6"/>
<text transform="translate(151.60,353.80) scale(0.815,1)" font-size="23.0" fill="#505050">MIRF3</text>
<line x1="111" y1="381.8" x2="149" y2="381.8" stroke="#e4e4e4" stroke-width="1.5"/>
<circle cx="129.5" cy="381.8" r="5.4" fill="#93b5e1"/>
<text transform="translate(151.60,386.60) scale(0.815,1)" font-size="23.0" fill="#505050">MIRF2</text>
<line x1="111" y1="416.0" x2="149" y2="416.0" stroke="#e4e4e4" stroke-width="1.5"/>
<circle cx="129.5" cy="416.0" r="5.1000000000000005" fill="#e8700e"/>
<text transform="translate(151.60,423.40) scale(0.815,1)" font-size="23.0" fill="#505050">MIRF1</text>
<line x1="1026" y1="345.7" x2="1063" y2="345.7" stroke="#c9cfd8" stroke-width="2.2"/>
<circle cx="1044.4" cy="345.7" r="5.4" fill="#93b5e1"/>
<text transform="translate(1066.60,352.90) scale(0.815,1)" font-size="23.0" fill="#505050">MIRF8</text>
<line x1="1026" y1="381.8" x2="1063" y2="381.8" stroke="#34465e" stroke-width="2.2"/>
<circle cx="1044.4" cy="381.8" r="5.65" fill="#0c2c5a"/>
<text transform="translate(1066.60,389.00) scale(0.815,1)" font-size="23.0" fill="#505050">MIRF9</text>
<line x1="1026" y1="415.8" x2="1063" y2="415.8" stroke="#eb9a5a" stroke-width="2.2"/>
<circle cx="1044.4" cy="415.8" r="5.1000000000000005" fill="#e8700e"/>
<text transform="translate(1066.60,423.20) scale(0.815,1)" font-size="23.0" fill="#505050">MIRF1</text>
<line x1="111" y1="836.8" x2="147" y2="836.8" stroke="#e4e4e4" stroke-width="1.5"/>
<circle cx="129.0" cy="836.8" r="5.4" fill="#93b5e1"/>
<text transform="translate(151.20,844.00) scale(0.815,1)" font-size="23.0" fill="#505050">MIRF5</text>
<line x1="111" y1="873.4" x2="147" y2="873.4" stroke="#e4e4e4" stroke-width="1.5"/>
<circle cx="129.0" cy="873.4" r="5.65" fill="#2e6fb6"/>
<text transform="translate(151.20,880.60) scale(0.815,1)" font-size="23.0" fill="#505050">MIRF6</text>
<line x1="111" y1="910.0" x2="147" y2="910.0" stroke="#e4e4e4" stroke-width="1.5"/>
<circle cx="129.0" cy="910.0" r="5.65" fill="#0c2c5a"/>
<text transform="translate(151.20,917.10) scale(0.815,1)" font-size="23.0" fill="#505050">MIRF7</text>
<line x1="111" y1="945.4" x2="147" y2="945.4" stroke="#e4e4e4" stroke-width="1.5"/>
<circle cx="129.0" cy="945.4" r="5.1000000000000005" fill="#e8700e"/>
<text transform="translate(151.20,953.00) scale(0.815,1)" font-size="23.0" fill="#505050">MIRF1</text>
<line x1="1001" y1="873.5" x2="1039" y2="873.5" stroke="#e4e4e4" stroke-width="1.5"/>
<circle cx="1020.3" cy="873.5" r="5.4" fill="#93b5e1"/>
<text transform="translate(1042.30,880.70) scale(0.815,1)" font-size="23.0" fill="#505050">MIRF10</text>
<line x1="1001" y1="909.2" x2="1039" y2="909.2" stroke="#8a8f98" stroke-width="1.5" stroke-dasharray="3,2"/>
<circle cx="1020.3" cy="909.2" r="5.65" fill="#0c2c5a"/>
<text transform="translate(1042.30,916.60) scale(0.815,1)" font-size="23.0" fill="#505050">MIRF11</text>
<line x1="1001" y1="945.4" x2="1039" y2="945.4" stroke="#e4e4e4" stroke-width="1.5"/>
<circle cx="1020.3" cy="945.4" r="5.1000000000000005" fill="#e8700e"/>
<text transform="translate(1042.30,953.10) scale(0.815,1)" font-size="23.0" fill="#505050">MIRF1</text>
</svg></body></html>
